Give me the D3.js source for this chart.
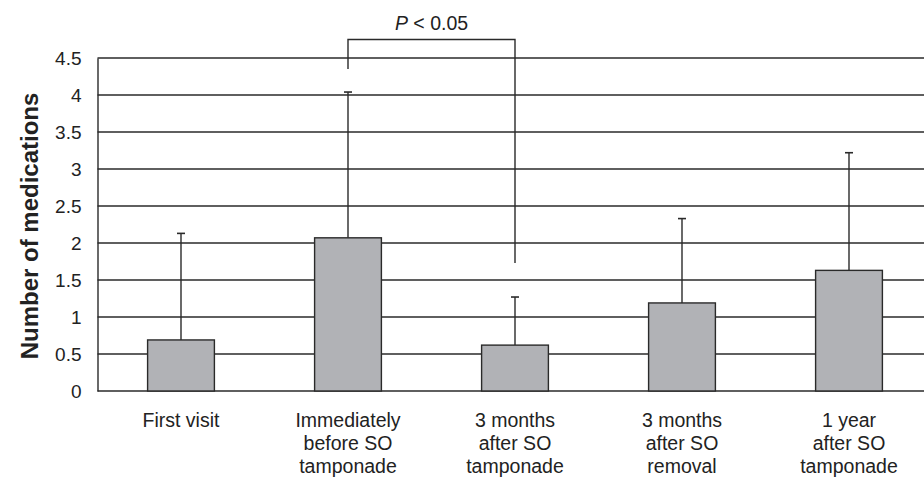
<!DOCTYPE html>
<html><head><meta charset="utf-8">
<script src="https://cdn.jsdelivr.net/npm/d3@7"></script>
<style>body{margin:0;background:#fff;} text{font-family:"Liberation Sans",Arial,sans-serif;}</style>
</head><body><svg id="c" width="924" height="481"></svg>
<script>
const categories = [["First visit"],["Immediately","before SO","tamponade"],["3 months","after SO","tamponade"],["3 months","after SO","removal"],["1 year","after SO","tamponade"]];
const means = [0.69, 2.07, 0.62, 1.19, 1.63];
const errTops = [2.13, 4.04, 1.27, 2.33, 3.22];
const yTicks = [0,0.5,1,1.5,2,2.5,3,3.5,4,4.5];
const sigPair = [1, 2];
const sigLevels = [4.35, 4.75, 1.73]; // left end, top, right end
const sigLabel = "P < 0.05";

const svg = d3.select("#c");
const x = d3.scaleBand().domain(d3.range(categories.length)).range([97.5, 932.5]).paddingInner(0.6).paddingOuter(0.3);
const y = d3.scaleLinear().domain([0, 4.5]).range([391, 58]);
const cx = i => x(i) + x.bandwidth()/2;

// gridlines
svg.append("g").selectAll("line").data(yTicks).join("line")
  .attr("x1", 97.5).attr("x2", 924).attr("y1", d=>y(d)).attr("y2", d=>y(d))
  .attr("stroke", "#2a2a2a").attr("stroke-width", 1.4);
// axis
const ax = svg.append("g").attr("transform","translate(97.5,0)")
  .call(d3.axisLeft(y).tickValues(yTicks).tickSize(0).tickPadding(16).tickFormat(d=>String(d)));
ax.select(".domain").attr("stroke","#2a2a2a").attr("stroke-width",1.4);
ax.selectAll("text").attr("font-size",19).attr("fill","#222").style("font-family","Liberation Sans, Arial, sans-serif");

// error bars
const eb = svg.append("g");
eb.selectAll("line.v").data(means).join("line").attr("class","v")
  .attr("x1",(d,i)=>cx(i)).attr("x2",(d,i)=>cx(i)).attr("y1",d=>y(d)).attr("y2",(d,i)=>y(errTops[i]))
  .attr("stroke","#2a2a2a").attr("stroke-width",1.4);
eb.selectAll("line.c").data(errTops).join("line").attr("class","c")
  .attr("x1",(d,i)=>cx(i)-4).attr("x2",(d,i)=>cx(i)+4).attr("y1",d=>y(d)).attr("y2",d=>y(d))
  .attr("stroke","#2a2a2a").attr("stroke-width",1.6);

// bars
svg.append("g").selectAll("rect").data(means).join("rect")
  .attr("x",(d,i)=>x(i)).attr("width",x.bandwidth()).attr("y",d=>y(d)).attr("height",d=>y(0)-y(d))
  .attr("fill","#b1b2b6").attr("stroke","#2a2a2a").attr("stroke-width",1.4);

// x labels
const xl = svg.append("g");
categories.forEach((lines,i)=>{
  const t = xl.append("text").attr("x",cx(i)).attr("y",427).attr("text-anchor","middle").attr("font-size",19.5).attr("fill","#222");
  lines.forEach((l,j)=>t.append("tspan").attr("x",cx(i)).attr("dy", j===0?0:23).text(l));
});

// y title
svg.append("text").attr("transform","translate(38,226) rotate(-90)").attr("text-anchor","middle")
  .attr("font-size",24).attr("font-weight","bold").attr("fill","#222").text("Number of medications");

// significance bracket
const [a,b] = sigPair;
svg.append("path").attr("fill","none").attr("stroke","#2a2a2a").attr("stroke-width",1.4)
  .attr("d",`M${cx(a)},${y(sigLevels[0])}V${y(sigLevels[1])}H${cx(b)}V${y(sigLevels[2])}`);
const st = svg.append("text").attr("x",(cx(a)+cx(b))/2).attr("y",30).attr("text-anchor","middle").attr("font-size",19.5).attr("fill","#222");
st.append("tspan").attr("font-style","italic").text("P");
st.append("tspan").text(sigLabel.slice(1));
</script></body></html>
